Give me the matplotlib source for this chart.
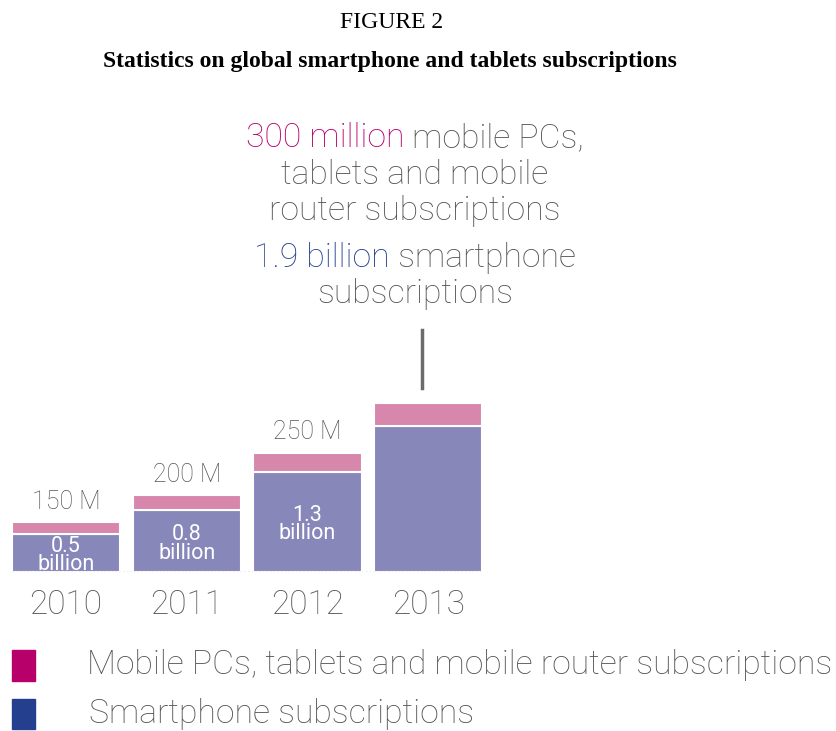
import matplotlib
matplotlib.use("Agg")
import matplotlib.pyplot as plt
from matplotlib.patches import Rectangle

# data
years = ["2010", "2011", "2012", "2013"]
smartphones = [0.5, 0.8, 1.3, 1.9]        # billion
mobile_pcs = [0.15, 0.20, 0.25, 0.30]     # billion
pc_labels = ["150 M", "200 M", "250 M", ""]
sp_labels = ["0.5\nbillion", "0.8\nbillion", "1.3\nbillion", ""]

pinkBar = "#D787AC"
purpleBar = "#8887BA"
magenta = "#B8006B"
navy = "#243F8E"
grey = "#555555"
font = "Roboto"
weight = "light"

W, H = 837, 731
fig = plt.figure(figsize=(W / 100, H / 100), dpi=100)

def fx(px):
    return px / W

def fy(py):
    return 1 - py / H

# headings
fig.text(fx(392), fy(22), "FIGURE 2", ha="center", va="center",
         family="Liberation Serif", fontsize=17)
fig.text(fx(390), fy(61), "Statistics on global smartphone and tablets subscriptions",
         ha="center", va="center", family="Liberation Serif",
         fontweight="bold", fontsize=17)

# bar axes: baseline at y=572px, 77 px per billion
ax = fig.add_axes([fx(5.65), fy(572), fx(483), 192.5 / H])
ax.set_xlim(-0.5, 3.5)
ax.set_ylim(0, 2.5)
ax.axis("off")

xs = range(len(years))
ax.bar(xs, smartphones, width=0.895, color=purpleBar, edgecolor="white", linewidth=1.5)
ax.bar(xs, mobile_pcs, bottom=smartphones, width=0.895, color=pinkBar,
       edgecolor="white", linewidth=1.5)
ax.plot([-0.45, 3.45], [0, 0], color="#999999", linestyle=":", linewidth=1)

for i in xs:
    top = smartphones[i] + mobile_pcs[i]
    if pc_labels[i]:
        ax.annotate(pc_labels[i], (i, top), xytext=(0, 6), textcoords="offset points",
                    ha="center", va="bottom", color=grey, family=font,
                    fontweight=weight, fontsize=18)
    if sp_labels[i]:
        ax.annotate(sp_labels[i], (i, smartphones[i] / 2), xytext=(0, -2),
                    textcoords="offset points", ha="center", va="center",
                    color="white", family=font, fontweight="normal", fontsize=15.5,
                    linespacing=0.82)
    ax.annotate(years[i], (i, 0), xytext=(0, -24), textcoords="offset points",
                ha="center", va="center", color=grey, family=font,
                fontweight=weight, fontsize=24)

# multi-colour annotation above 2013 bar
renderer = fig.canvas.get_renderer()

def tone_line(cy, parts, size=24.3, cx=415):
    texts = []
    widths = []
    for s, c in parts:
        t = fig.text(0, fy(cy), s, color=c, family=font, fontweight=weight,
                     fontsize=size, ha="left", va="center")
        widths.append(t.get_window_extent(renderer).width)
        texts.append(t)
    x = cx - sum(widths) / 2
    for t, w in zip(texts, widths):
        t.set_x(fx(x))
        x += w

tone_line(138, [("300 million", magenta), (" mobile PCs,", grey)])
tone_line(175, [("tablets and mobile", grey)])
tone_line(211, [("router subscriptions", grey)])
tone_line(258, [("1.9 billion", navy), (" smartphone", grey)])
tone_line(294, [("subscriptions", grey)])

fig.add_artist(plt.Line2D([fx(422), fx(422)], [fy(330), fy(388)], color="#6B6B6B",
                          linewidth=2.5))

# legend
fig.add_artist(Rectangle((fx(12), fy(681)), fx(23), 31 / H, color=magenta))
fig.add_artist(Rectangle((fx(12), fy(729)), fx(23), 30 / H, color=navy))
fig.text(fx(87), fy(665), "Mobile PCs, tablets and mobile router subscriptions",
         color=grey, family=font, fontweight=weight, fontsize=24.3, va="center")
fig.text(fx(89), fy(714), "Smartphone subscriptions",
         color=grey, family=font, fontweight=weight, fontsize=24.3, va="center")

fig.savefig("out.png", dpi=100, facecolor="white")
